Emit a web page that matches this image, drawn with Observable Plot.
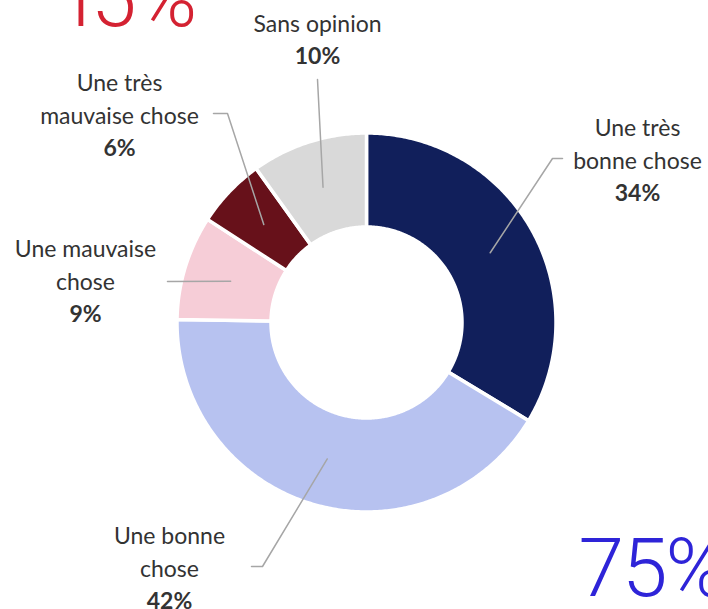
<!DOCTYPE html>
<html>
<head>
<meta charset="utf-8">
<script src="https://cdn.jsdelivr.net/npm/d3@7"></script>
<script src="https://cdn.jsdelivr.net/npm/@observablehq/plot@0.6"></script>
<style>
  html, body { margin: 0; padding: 0; background: #fff; }
  #chart svg { display: block; }
</style>
</head>
<body>
<div id="chart"></div>
<script>
// ---- data ----
const categories = ["Une très bonne chose", "Une bonne chose", "Une mauvaise chose", "Une très mauvaise chose", "Sans opinion"];
const labelNames = ["Une très\nbonne chose", "Une bonne\nchose", "Une mauvaise\nchose", "Une très\nmauvaise chose", "Sans opinion"];
const values = [34, 42, 9, 6, 10];
const colors = ["#111f5b", "#b7c2f0", "#f6cdd7", "#67111a", "#d9d9d9"];
const headlines = ["15 %", "75%"];
const headlineColors = ["#d42232", "#2e24d8"];

// ---- layout ----
const W = 708, H = 609;
const CX = 366, CY = 322;
const R_OUT = 189.5, R_IN = 95.5, R_LEAD = 142;
const GAP = 3.5;
const LINE = 33;
const labelLayout = [
  {x: 637, base: 135, elbow: [552, 158], end: [562, 158]},
  {x: 169, base: 543, elbow: [262, 566], end: [251, 566]},
  {x: 85,  base: 256, elbow: [167, 281], end: [167, 281]},
  {x: 119, base: 90,  elbow: [227, 113], end: [213, 113]},
  {x: 317, base: 31,  elbow: [317, 79],  end: [317, 79]}
];
const headlineLayout = [
  {x: 55, baseline: 25.5, spacing: -10},
  {x: 578, baseline: 595, spacing: -2}
];

// ---- geometry from data ----
const table = categories.map((c, i) => ({category: c, value: values[i], name: labelNames[i], pct: values[i] + "%"}));
const arcs = d3.pie().sort(null).value(d => d.value).startAngle(0).endAngle(2 * Math.PI)(table);
const polar = (r, a) => [CX + r * Math.sin(a), CY - r * Math.cos(a)];

const slicePts = [];
arcs.forEach(a => {
  const n = Math.max(8, Math.ceil((a.endAngle - a.startAngle) / 0.01));
  for (let k = 0; k <= n; k++) {
    const t = a.startAngle + (a.endAngle - a.startAngle) * k / n;
    const [x, y] = polar(R_OUT, t);
    slicePts.push({category: a.data.category, x, y});
  }
  for (let k = n; k >= 0; k--) {
    const t = a.startAngle + (a.endAngle - a.startAngle) * k / n;
    const [x, y] = polar(R_IN, t);
    slicePts.push({category: a.data.category, x, y});
  }
});

const leaderPts = [];
arcs.forEach((a, i) => {
  const mid = (a.startAngle + a.endAngle) / 2;
  const [x0, y0] = polar(R_LEAD, mid);
  const L = labelLayout[i];
  leaderPts.push({category: a.data.category, x: x0, y: y0});
  leaderPts.push({category: a.data.category, x: L.elbow[0], y: L.elbow[1]});
  leaderPts.push({category: a.data.category, x: L.end[0], y: L.end[1]});
});

// one row per text line, placed on its baseline
const nameRows = [], pctRows = [];
table.forEach((d, i) => {
  const L = labelLayout[i];
  const lines = d.name.split("\n");
  lines.forEach((t, j) => nameRows.push({x: L.x, y: L.base + j * LINE, text: t}));
  pctRows.push({x: L.x, y: L.base + lines.length * LINE - 1, text: d.pct});
});
const headRows = headlines.map((t, i) => ({x: headlineLayout[i].x, y: headlineLayout[i].baseline, text: t, color: headlineColors[i]}));

const labelFont = "Lato, 'Noto Sans', sans-serif";

const chart = Plot.plot({
  width: W,
  height: H,
  margin: 0,
  style: {background: "#fff", overflow: "hidden"},
  x: {type: "linear", domain: [0, W], range: [0, W], axis: null},
  y: {type: "linear", domain: [0, H], range: [0, H], axis: null},
  color: {type: "ordinal", domain: categories, range: colors},
  marks: [
    Plot.line(slicePts, {x: "x", y: "y", z: "category", fill: "category", stroke: "white", strokeWidth: GAP, curve: "linear-closed"}),
    Plot.line(leaderPts, {x: "x", y: "y", z: "category", stroke: "#a6a6a6", strokeWidth: 1.5}),
    Plot.text(nameRows, {x: "x", y: "y", text: "text", textAnchor: "middle", lineAnchor: "bottom", fontSize: 23, fill: "#333333", fontFamily: labelFont}),
    Plot.text(pctRows, {x: "x", y: "y", text: "text", textAnchor: "middle", lineAnchor: "bottom", fontSize: 23, fill: "#333333", fontWeight: "bold", fontFamily: labelFont}),
    Plot.text(headRows, {x: "x", y: "y", text: "text", fill: d => d.color, textAnchor: "start", lineAnchor: "bottom", fontSize: 82, fontWeight: 300, fontFamily: "Roboto, sans-serif"})
  ]
});
// tighten headline letter spacing
d3.select(chart).selectAll("text").each(function () {
  const i = headlines.indexOf(this.textContent);
  if (i >= 0) this.setAttribute("letter-spacing", headlineLayout[i].spacing + "px");
});
document.getElementById("chart").appendChild(chart);
</script>
</body>
</html>
